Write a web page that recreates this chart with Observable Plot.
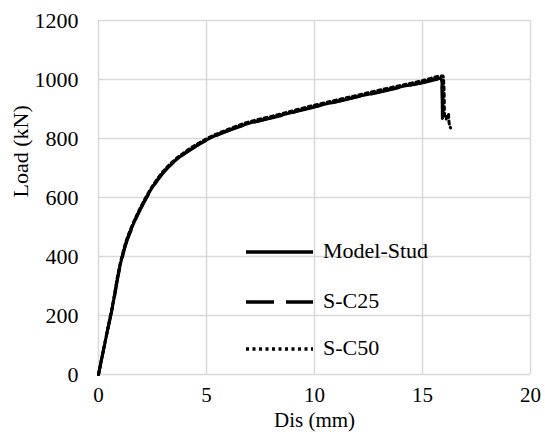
<!DOCTYPE html>
<html><head><meta charset="utf-8">
<script src="https://cdn.jsdelivr.net/npm/d3@7"></script>
<script src="https://cdn.jsdelivr.net/npm/@observablehq/plot@0.6"></script>
<style>
body{margin:0;background:#fff;}
#wrap{position:relative;width:545px;height:432px;font-family:"Liberation Serif","Times New Roman",serif;}
#legend{position:absolute;left:246px;top:236px;}
.item{position:absolute;left:0;width:200px;height:30px;}
.item svg{position:absolute;left:0;top:0;}
.item span{position:absolute;left:77px;top:0;font-size:22px;line-height:30px;color:#000;white-space:nowrap;}
</style>
</head><body><div id="wrap"><div id="legend"></div></div>
<script>
// Tick values
const xTicks = [0, 5, 10, 15, 20];
const yTicks = [0, 200, 400, 600, 800, 1000, 1200];
const seriesNames = ["Model-Stud", "S-C25", "S-C50"];

// Model-Stud
const modelX = [0, 0.35, 0.7, 0.9, 1.1, 1.3, 1.5, 1.75, 2.0, 2.5, 3.0, 3.5, 4.0, 4.5, 5.0, 6.0, 7.0, 8.0, 9.0, 10.0, 11.0, 12.0, 13.0, 14.0, 15.0, 15.85, 15.9, 15.92];
const modelY = [0, 125, 250, 335, 400, 452, 490, 533, 570, 635, 685, 722, 750, 773, 795, 827, 852, 870, 889, 908, 925, 942, 958, 975, 990, 1004, 990, 868];
// S-C25
const c25X = [0, 0.3, 0.72, 0.9, 1.1, 1.3, 1.5, 1.75, 2.0, 2.5, 3.0, 3.5, 4.0, 5.0, 6.0, 7.0, 8.0, 9.0, 10.0, 11.0, 12.0, 13.0, 14.0, 15.0, 15.88, 15.95, 16.0];
const c25Y = [0, 110, 255, 330, 396, 449, 487, 531, 568, 633, 684, 721, 749, 794, 826, 851, 869, 888, 907, 924, 941, 957, 974, 989, 1002, 885, 872];
// S-C50
const c50X = [0, 0.35, 0.7, 0.9, 1.1, 1.3, 1.5, 1.75, 2.0, 2.5, 3.0, 3.5, 4.0, 5.0, 6.0, 7.0, 8.0, 9.0, 10.0, 11.0, 12.0, 13.0, 14.0, 15.0, 15.95, 16.0, 16.02, 16.1, 16.2, 16.22, 16.3];
const c50Y = [0, 128, 255, 340, 405, 457, 495, 537, 574, 639, 689, 726, 754, 799, 831, 857, 875, 894, 913, 930, 947, 964, 980, 996, 1012, 960, 880, 866, 884, 860, 836];

const styles = [
  {stroke: "#000", strokeWidth: 3, dash: null},
  {stroke: "#000", strokeWidth: 3, dash: "28,12"},
  {stroke: "#000", strokeWidth: 3, dash: "3,3.5"}
];

const toRows = (xs, ys) => xs.map((x, i) => ({x, y: ys[i]}));
const model = toRows(modelX, modelY);
const c25 = toRows(c25X, c25Y);
const c50 = toRows(c50X, c50Y);

const lineOpts = (s) => ({x: "x", y: "y", stroke: s.stroke, strokeWidth: s.strokeWidth, strokeDasharray: s.dash ?? undefined, strokeLinejoin: "round", curve: "monotone-x"});

const plot = Plot.plot({
  width: 545, height: 432,
  marginLeft: 98, marginRight: 15, marginTop: 20, marginBottom: 58,
  style: {fontFamily: '"Liberation Serif","Times New Roman",serif', fontSize: "22px", color: "#000", background: "#fff"},
  x: {domain: [0, 20]},
  y: {domain: [0, 1200]},
  marks: [
    Plot.ruleX(xTicks, {stroke: "#d9d9d9", strokeWidth: 1.5, strokeOpacity: 1}),
    Plot.ruleY(yTicks, {stroke: "#d9d9d9", strokeWidth: 1.5, strokeOpacity: 1}),
    Plot.axisX(xTicks, {tickSize: 0, tickPadding: 13, fontSize: 21, label: null, tickFormat: d => String(d)}),
    Plot.axisY(yTicks, {tickSize: 0, tickPadding: 20, fontSize: 22, label: null, tickFormat: d => String(d)}),
    Plot.text(["Dis (mm)"], {frameAnchor: "bottom", lineAnchor: "middle", dy: 46, fontSize: 21}),
    Plot.text(["Load (kN)"], {frameAnchor: "left", dx: -78, rotate: -90, fontSize: 22}),
    Plot.line(c50, lineOpts(styles[2])),
    Plot.line(c25, lineOpts(styles[1])),
    Plot.line(model, lineOpts(styles[0]))
  ]
});
const wrap = document.getElementById("wrap");
wrap.insertBefore(plot, wrap.firstChild);

// Legend inside plot area
const legend = document.getElementById("legend");
const tops = [0, 50, 97];
seriesNames.forEach((name, i) => {
  const s = styles[i];
  const item = document.createElement("div");
  item.className = "item";
  item.style.top = tops[i] + "px";
  item.innerHTML = `<svg width="70" height="30"><line x1="0" y1="16" x2="67" y2="16" stroke="${s.stroke}" stroke-width="${s.strokeWidth + 0.5}" ${s.dash ? `stroke-dasharray="${s.dash}"` : ""}/></svg><span>${name}</span>`;
  legend.appendChild(item);
});
</script>
</body></html>
